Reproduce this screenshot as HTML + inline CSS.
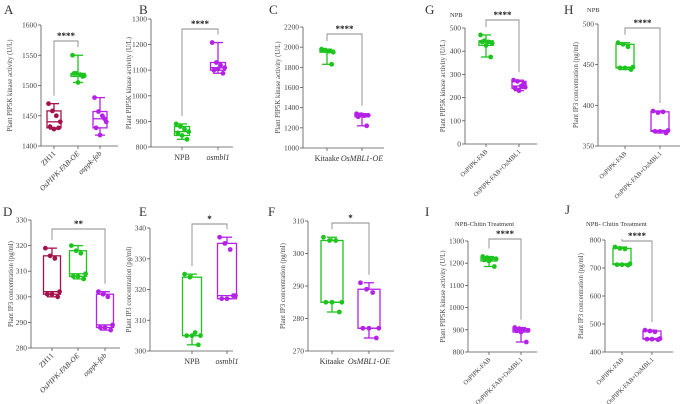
<!DOCTYPE html>
<html><head><meta charset="utf-8">
<style>
html,body{margin:0;padding:0;background:#fff;}
svg{display:block;font-family:"Liberation Serif",serif;}
</style></head>
<body>
<svg id="fig" width="685" height="404" viewBox="0 0 685 404" xmlns="http://www.w3.org/2000/svg"></svg>
<script>
// ---------- data ----------
const aCats = ["ZH11","OsPIPK-FAB-OE","osppk-fab"];
const aZH11 = [1470,1458,1450,1440,1432,1428,1430];
const aOE = [1550,1520,1518,1516,1520,1505,1515];
const aMut = [1480,1457,1450,1440,1430,1418,1445];
const aTicks = [1400,1450,1500,1550,1600];

const bCats = ["NPB","osmbl1"];
const bNPB = [890,880,870,860,855,845,830];
const bMut = [1208,1130,1120,1110,1100,1105,1088];
const bTicks = [800,900,1000,1100,1200,1300];

const cCats = ["Kitaake","OsMBL1-OE"];
const cWT = [1980,1970,1960,1950,1970,1960,1830];
const cOE = [1340,1330,1320,1325,1310,1330,1220];
const cTicks = [1000,1200,1400,1600,1800,2000,2200];

const gCats = ["OsPIPK-FAB","OsPIPK-FAB+OsMBL1"];
const gFAB = [470,445,440,435,440,425,375];
const gFABM = [275,270,250,245,240,230,260];
const gTicks = [0,100,200,300,400,500];

const hCats = ["OsPIPK-FAB","OsPIPK-FAB+OsMBL1"];
const hFAB = [477,475,472,447,446,446,444];
const hFABM = [393,391,392,369,368,368,366];
const hTicks = [350,400,450,500];

const dCats = ["ZH11","OsPIPK-FAB-OE","osppk-fab"];
const dZH11 = [319,316,315,302,301,301,300];
const dOE = [320,318,317,309,308,308,307];
const dMut = [302,301,300,289,288,288,287];
const dTicks = [280,290,300,310,320,330];

const eCats = ["NPB","osmbl1"];
const eNPB = [325,324,306,305,305,305,302];
const eMut = [337,335,333,318,317,317,318];
const eTicks = [300,310,320,330,340];

const fCats = ["Kitaake","OsMBL1-OE"];
const fWT = [305,304,304,285,285,285,282];
const fOE = [291,289,288,277,277,277,274];
const fTicks = [270,280,290,300,310];

const iCats = ["OsPIPK-FAB","OsPIPK-FAB+OsMBL1"];
const iFAB = [1230,1225,1222,1220,1215,1210,1185];
const iFABM = [910,905,900,898,895,890,845];
const iTicks = [800,900,1000,1100,1200,1300];

const jCats = ["OsPIPK-FAB","OsPIPK-FAB+OsMBL1"];
const jFAB = [775,770,768,715,712,712,710];
const jFABM = [478,475,472,448,446,446,444];
const jTicks = [400,500,600,700,800];

// ---------- drawing ----------
const NS="http://www.w3.org/2000/svg";
const svg=document.getElementById('fig');
function mk(tag,attrs,parent,txt){const e=document.createElementNS(NS,tag);for(const k in attrs)e.setAttribute(k,attrs[k]);if(txt!==undefined)e.textContent=txt;(parent||svg).appendChild(e);return e;}
const GREEN="#1ec41e",MAG="#b521e8",RED="#a3124c",AX="#555",BR="#8a8a8a";
function q(sorted,p){const pos=(sorted.length+1)*p-1;const lo=Math.max(0,Math.floor(pos)),hi=Math.min(sorted.length-1,Math.ceil(pos));return sorted[lo]+(sorted[hi]-sorted[lo])*(pos-lo);}

function panel(cfg){
  const g=mk('g',{},svg);
  
  
  const t0=cfg.ticks[0],t1=cfg.ticks[cfg.ticks.length-1];
  const yy=v=>cfg.yb+(v-t0)/(t1-t0)*(cfg.yt-cfg.yb);
  const L=mk('text',{x:cfg.lx,y:cfg.ly,'font-size':13,fill:'#333'},g,cfg.letter);
  
  const ya=mk('line',{x1:cfg.ax,y1:cfg.yt,x2:cfg.ax,y2:cfg.yb,stroke:AX,'stroke-width':0.8},g);
  
  const xa=mk('line',{x1:cfg.ax,y1:cfg.yb,x2:cfg.axEnd,y2:cfg.yb,stroke:AX,'stroke-width':0.8},g);
  
  cfg.ticks.forEach(t=>{
    mk('line',{x1:cfg.ax-3,y1:yy(t),x2:cfg.ax,y2:yy(t),stroke:AX,'stroke-width':0.8},g);
    const tl=mk('text',{x:cfg.ax-4,y:yy(t)+2.5,'font-size':7.5,'text-anchor':'end',fill:'#444'},g,t);
    
  });
  const cy=(cfg.yt+cfg.yb)/2;
  const yt=mk('text',{x:cfg.ytx,y:cy,'font-size':6.8,'text-anchor':'middle',fill:'#444',transform:`rotate(-90 ${cfg.ytx} ${cy})`},g,cfg.ytitle);
  
  if(cfg.title){const tt=mk('text',{x:cfg.titx,y:cfg.tity,'font-size':6.5,fill:'#333'},g,cfg.title);}
  const jit=[-7,-2,3,8,-5,0,6];
  cfg.series.forEach((vals,i)=>{
    const x=cfg.gx[i],col=cfg.colors[i];
    mk('line',{x1:x,y1:cfg.yb,x2:x,y2:cfg.yb+3,stroke:AX,'stroke-width':0.8},g);
    const s=[...vals].sort((a,b)=>a-b);
    const mn=s[0],mx=s[s.length-1],q1=q(s,.25),md=q(s,.5),q3=q(s,.75);
    const hw=cfg.bw/2;
    const bx=mk('g',{stroke:col,'stroke-width':1.3,fill:'none'},g);
    
    
    mk('rect',{x:x-hw,y:yy(q3),width:cfg.bw,height:Math.max(0.5,yy(q1)-yy(q3))},bx);
    mk('line',{x1:x-hw,y1:yy(md),x2:x+hw,y2:yy(md)},bx);
    mk('line',{x1:x,y1:yy(q3),x2:x,y2:yy(mx)},bx);
    mk('line',{x1:x,y1:yy(q1),x2:x,y2:yy(mn)},bx);
    mk('line',{x1:x-5,y1:yy(mx),x2:x+5,y2:yy(mx)},bx);
    mk('line',{x1:x-5,y1:yy(mn),x2:x+5,y2:yy(mn)},bx);
    vals.forEach((v,k)=>{
      const c=mk('circle',{cx:x+jit[k%jit.length]*cfg.bw/18,cy:yy(v),r:2.4,fill:col},g);
      
    });
    let lab;
    if(cfg.rot){
      const lx=x+2,ly=cfg.yb+8;
      lab=mk('text',{x:lx,y:ly,'font-size':cfg.lfs||7.5,'text-anchor':'end',fill:'#333','font-style':cfg.ital&&cfg.ital[i]?'italic':'normal',transform:`rotate(-45 ${lx} ${ly})`},g,cfg.cats[i]);
    }else{
      lab=mk('text',{x:x,y:cfg.yb+13,'font-size':8,'text-anchor':'middle',fill:'#333','font-style':cfg.ital&&cfg.ital[i]?'italic':'normal'},g,cfg.cats[i]);
    }
    
  });
  const [a,b]=cfg.br;
  const by=cfg.bry;
  const maxA=Math.max(...cfg.series[a]),maxB=Math.max(...cfg.series[b]);
  const br=mk('path',{d:`M${cfg.gx[a]} ${yy(maxA)-8} V${by} H${cfg.gx[b]} V${yy(maxB)-8}`,fill:'none',stroke:BR,'stroke-width':0.9},g);
  
  const st=mk('text',{x:(cfg.gx[a]+cfg.gx[b])/2,y:by-2,'font-size':9,'text-anchor':'middle',fill:'#222','font-weight':'bold'},g,cfg.sig);
  
}
const YT1="Plant PIP5K kinase activity (U/L)",YT2="Plant IP3 concentration (pg/ml)";
panel({letter:'A',lx:4,ly:14,ax:41,axEnd:118,yt:25,yb:146,ticks:aTicks,gx:[54,78,100],bw:14,cats:aCats,series:[aZH11,aOE,aMut],colors:[RED,GREEN,MAG],rot:true,ital:[0,1,1],ytitle:YT1,ytx:12,br:[0,1],bry:41,sig:'****'});
panel({letter:'B',lx:139,ly:14,ax:151,axEnd:233,yt:19,yb:147,ticks:bTicks,gx:[182,218],bw:15,cats:bCats,series:[bNPB,bMut],colors:[GREEN,MAG],rot:false,ital:[0,1],ytitle:YT1,ytx:131,br:[0,1],bry:29,sig:'****'});
panel({letter:'C',lx:269,ly:14,ax:303,axEnd:384,yt:27,yb:148,ticks:cTicks,gx:[327,362],bw:14,cats:cCats,series:[cWT,cOE],colors:[GREEN,MAG],rot:false,ital:[0,1],ytitle:YT1,ytx:280,br:[0,1],bry:34,sig:'****'});
panel({letter:'G',lx:425,ly:14,ax:465,axEnd:537,yt:28,yb:144,ticks:gTicks,gx:[486,519],bw:14,cats:gCats,series:[gFAB,gFABM],colors:[GREEN,MAG],rot:true,lfs:6.5,ytitle:YT1,ytx:445,br:[0,1],bry:20,sig:'****',title:'NPB',titx:450,tity:17});
panel({letter:'H',lx:564,ly:14,ax:598,axEnd:680,yt:24,yb:146,ticks:hTicks,gx:[625,660],bw:18,cats:hCats,series:[hFAB,hFABM],colors:[GREEN,MAG],rot:true,lfs:6.5,ytitle:YT2,ytx:578,br:[0,1],bry:28,sig:'****',title:'NPB',titx:587,tity:12});
panel({letter:'D',lx:3,ly:216,ax:31,axEnd:120,yt:220,yb:348,ticks:dTicks,gx:[52,78,105],bw:17,cats:dCats,series:[dZH11,dOE,dMut],colors:[RED,GREEN,MAG],rot:true,ital:[0,1,1],ytitle:YT2,ytx:13,br:[0,2],bry:229,sig:'**'});
panel({letter:'E',lx:139,ly:216,ax:150,axEnd:233,yt:228,yb:351,ticks:eTicks,gx:[192,227],bw:19,cats:eCats,series:[eNPB,eMut],colors:[GREEN,MAG],rot:false,ital:[0,1],ytitle:YT2,ytx:131,br:[0,1],bry:224,sig:'*'});
panel({letter:'F',lx:268,ly:216,ax:308,axEnd:394,yt:221,yb:351,ticks:fTicks,gx:[332,369],bw:22,cats:fCats,series:[fWT,fOE],colors:[GREEN,MAG],rot:false,ital:[0,1],ytitle:YT2,ytx:285,br:[0,1],bry:223,sig:'*'});
panel({letter:'I',lx:425,ly:216,ax:468,axEnd:537,yt:241,yb:352,ticks:iTicks,gx:[489,521],bw:16,cats:iCats,series:[iFAB,iFABM],colors:[GREEN,MAG],rot:true,lfs:6.5,ytitle:YT1,ytx:445,br:[0,1],bry:239,sig:'****',title:'NPB-Chitin Treatment',titx:455,tity:226});
panel({letter:'J',lx:565,ly:214,ax:605,axEnd:673,yt:240,yb:352,ticks:jTicks,gx:[622,652],bw:18,cats:jCats,series:[jFAB,jFABM],colors:[GREEN,MAG],rot:true,lfs:6.5,ytitle:YT2,ytx:583,br:[0,1],bry:241,sig:'****',title:'NPB- Chitin Treatment',titx:586,tity:226});
</script>
</body></html>
